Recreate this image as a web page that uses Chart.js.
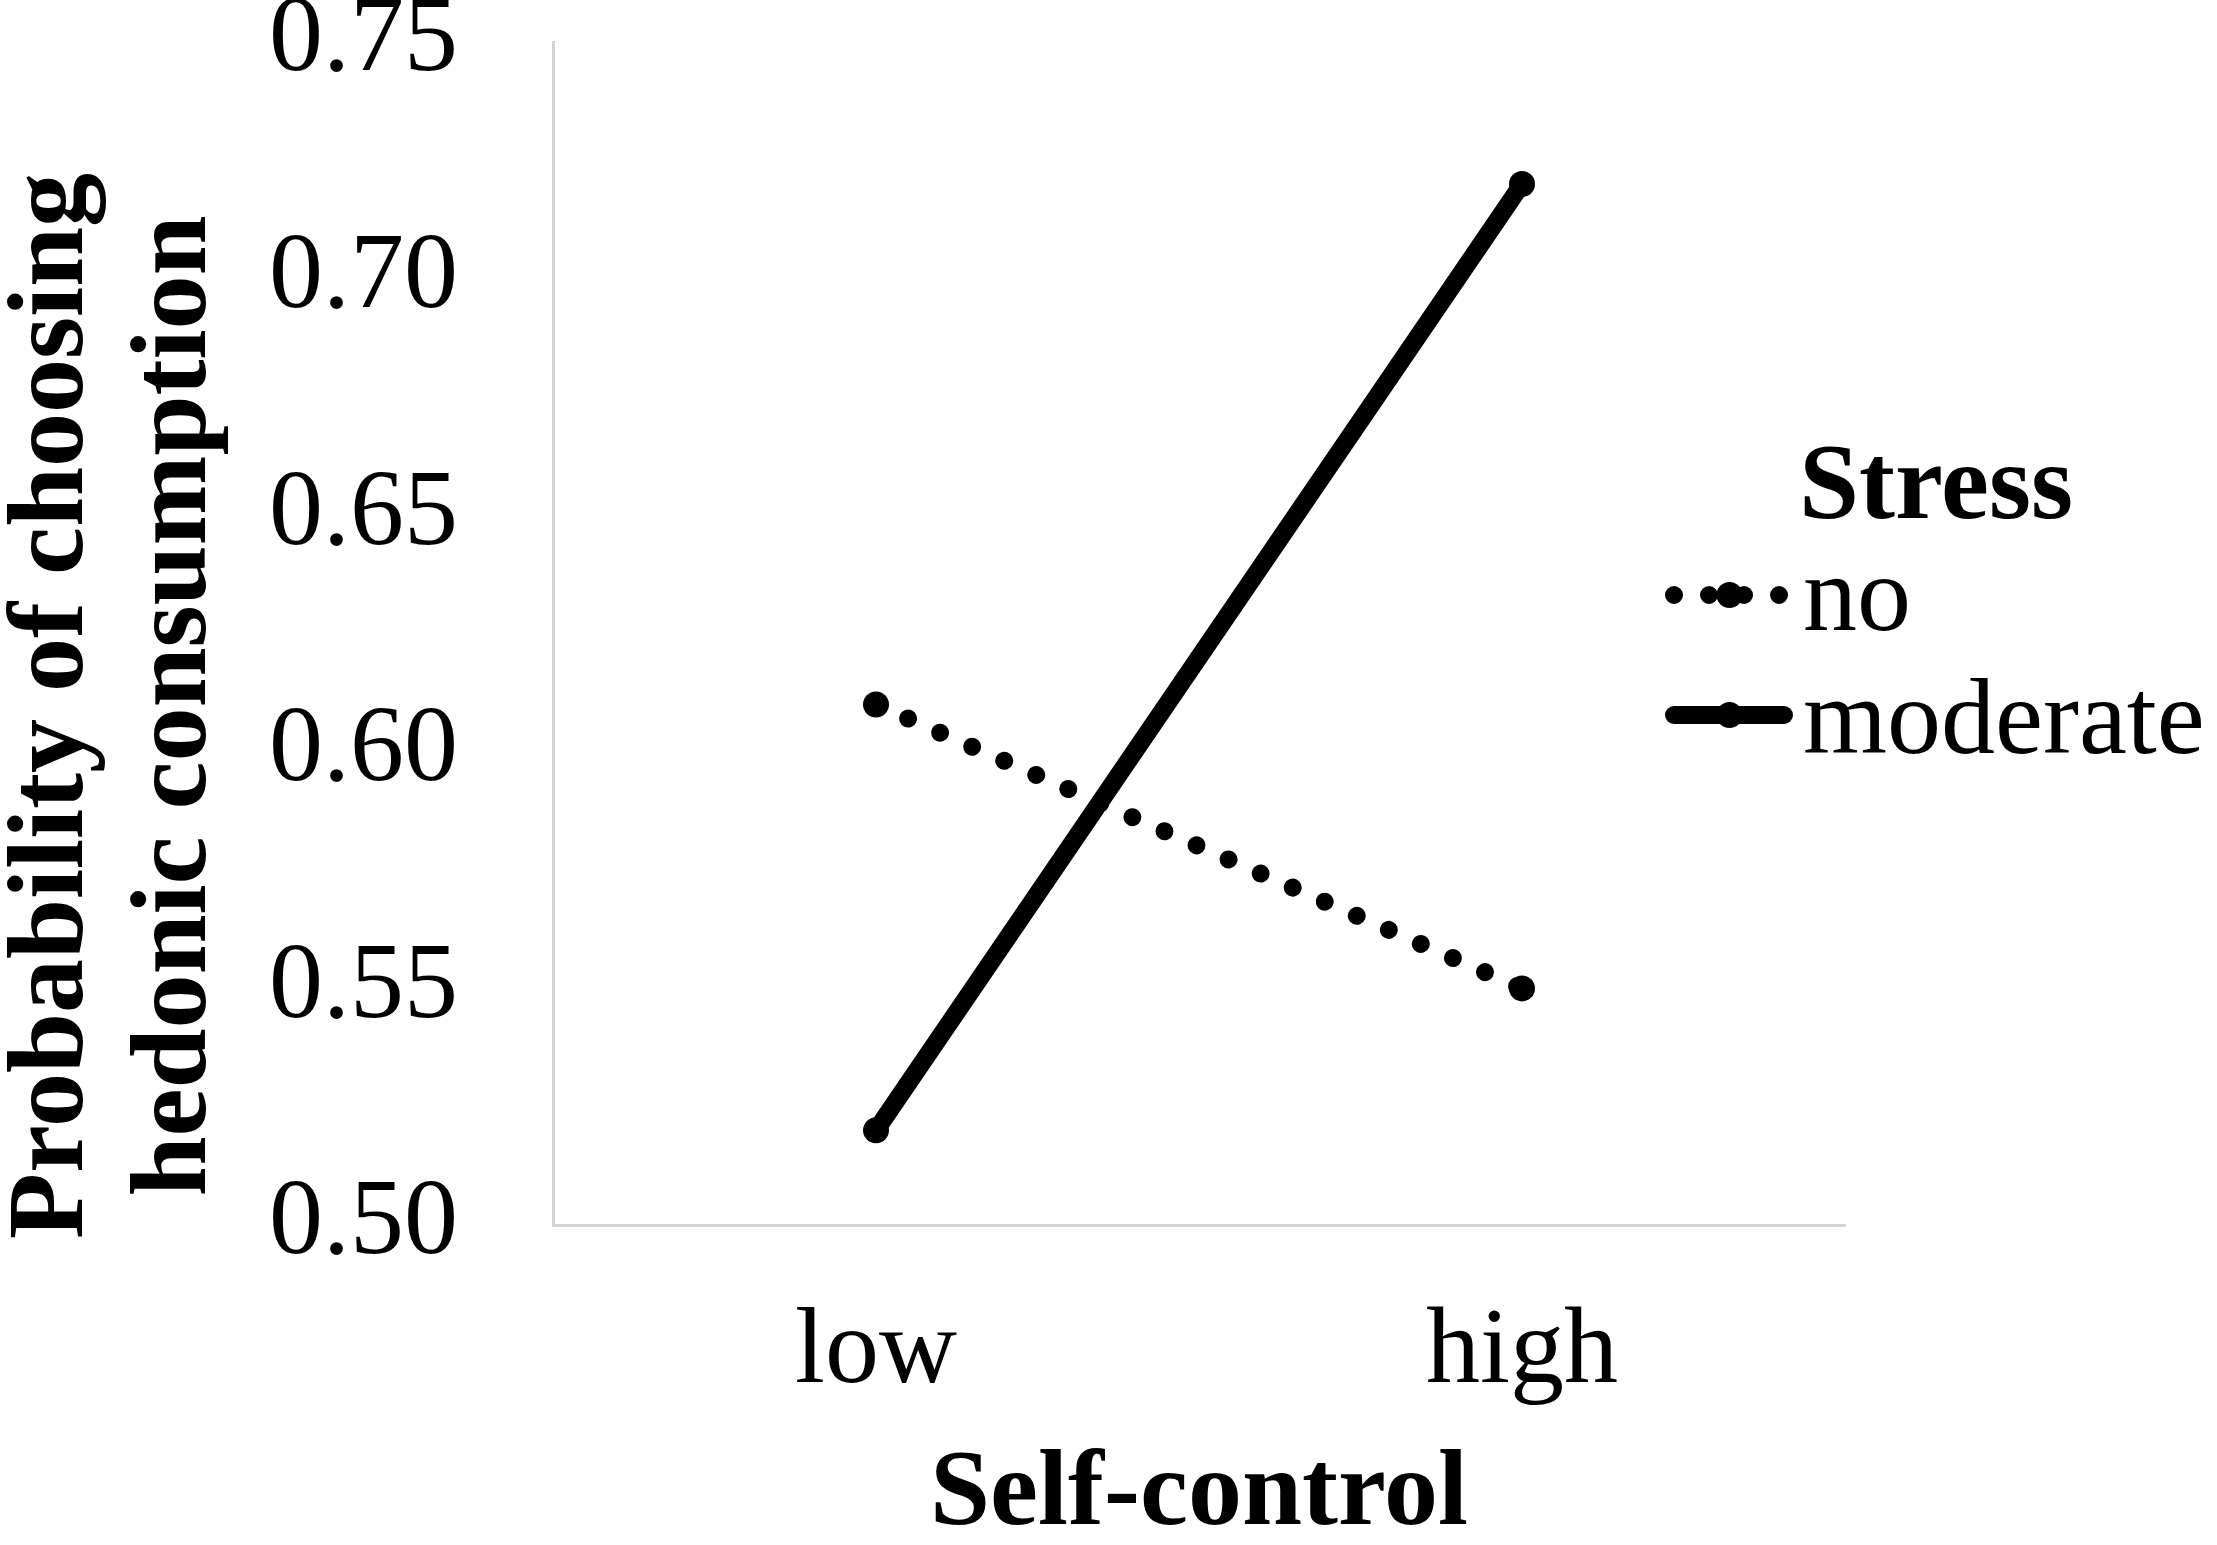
<!DOCTYPE html>
<html>
<head>
<meta charset="utf-8">
<script src="https://cdn.jsdelivr.net/npm/chart.js@4.4.1/dist/chart.umd.min.js"></script>
<style>
  html, body { margin: 0; padding: 0; background: #ffffff; }
  canvas { display: block; }
</style>
</head>
<body>
<canvas id="c" width="2217" height="1545"></canvas>
<script>
const categories = ['low', 'high'];
const seriesNames = ['no', 'moderate'];
const noStress = [0.61, 0.55];
const moderateStress = [0.52, 0.72];
const yTicks = [0.50, 0.55, 0.60, 0.65, 0.70, 0.75];
const legendTitle = 'Stress';
const xTitle = 'Self-control';
const yTitleLines = ['Probability of choosing', 'hedonic consumption'];

const SERIF = '"Liberation Serif", "Times New Roman", serif';

const yTitlePlugin = {
  id: 'yTitle',
  afterDraw(chart) {
    const ctx = chart.ctx;
    ctx.save();
    ctx.fillStyle = '#000';
    ctx.font = 'bold 108px ' + SERIF;
    ctx.textAlign = 'center';
    ctx.textBaseline = 'alphabetic';
    const cy = 706;
    const xs = [82, 205];
    yTitleLines.forEach((t, i) => {
      ctx.save();
      ctx.translate(xs[i], cy);
      ctx.rotate(-Math.PI / 2);
      ctx.fillText(t, 0, 0);
      ctx.restore();
    });
    ctx.restore();
  }
};

const legendPlugin = {
  id: 'customLegend',
  afterDraw(chart) {
    const ctx = chart.ctx;
    const ds = chart.data.datasets;
    ctx.save();
    ctx.fillStyle = '#000';
    ctx.textAlign = 'left';
    ctx.textBaseline = 'alphabetic';
    ctx.font = 'bold 108px ' + SERIF;
    ctx.fillText(legendTitle, 1799, 518);
    const rows = [{y: 595, base: 630}, {y: 715, base: 753}];
    const x0 = 1666, x1 = 1793;
    ds.forEach((d, i) => {
      const r = rows[i];
      ctx.save();
      ctx.strokeStyle = d.borderColor;
      ctx.lineWidth = d.borderWidth;
      ctx.lineCap = 'round';
      ctx.setLineDash(d.borderDash || []);
      ctx.beginPath();
      ctx.moveTo(x0 + 8, r.y);
      ctx.lineTo(x1 - 9, r.y);
      ctx.stroke();
      ctx.setLineDash([]);
      ctx.beginPath();
      ctx.fillStyle = d.pointBackgroundColor;
      ctx.arc((x0 + x1) / 2, r.y, d.pointRadius, 0, Math.PI * 2);
      ctx.fill();
      ctx.restore();
      ctx.font = '108px ' + SERIF;
      ctx.fillStyle = '#000';
      ctx.fillText(d.label, 1803, r.base);
    });
    ctx.restore();
  }
};

new Chart(document.getElementById('c'), {
  type: 'line',
  data: {
    labels: categories,
    datasets: [
      {
        label: seriesNames[0],
        data: noStress,
        borderColor: '#000',
        borderWidth: 18,
        borderDash: [0.01, 35],
        borderCapStyle: 'round',
        pointRadius: 13,
        pointBorderWidth: 0,
        pointBackgroundColor: '#000',
        pointBorderColor: '#000',
        tension: 0,
        fill: false
      },
      {
        label: seriesNames[1],
        data: moderateStress,
        borderColor: '#000',
        borderWidth: 18,
        borderCapStyle: 'round',
        pointRadius: 13,
        pointBorderWidth: 0,
        pointBackgroundColor: '#000',
        pointBorderColor: '#000',
        tension: 0,
        fill: false
      }
    ]
  },
  options: {
    responsive: false,
    devicePixelRatio: 1,
    animation: false,
    layout: { padding: { left: 0, right: 372, top: 42, bottom: 0 } },
    plugins: {
      legend: { display: false },
      tooltip: { enabled: false },
      title: { display: false }
    },
    scales: {
      x: {
        type: 'category',
        offset: true,
        grid: { display: false, drawTicks: false },
        border: { display: true, color: '#d4d4d4', width: 3 },
        ticks: {
          color: '#000',
          padding: 64,
          font: { family: SERIF, size: 108, lineHeight: 1.2 }
        },
        title: {
          display: true,
          text: xTitle,
          color: '#000',
          padding: { top: 0, bottom: 0 },
          font: { family: SERIF, size: 108, weight: 'bold', lineHeight: 0.9 }
        },
        afterFit(scale) {
          scale.height = 320;
          scale.paddingLeft = 0; scale.paddingRight = 0;
          scale.paddingTop = 0; scale.paddingBottom = 0;
        }
      },
      y: {
        min: yTicks[0],
        max: yTicks[yTicks.length - 1],
        grid: { display: false, drawTicks: false },
        border: { display: true, color: '#d4d4d4', width: 3 },
        afterBuildTicks(scale) { scale.ticks = yTicks.map(v => ({ value: v })); },
        ticks: {
          color: '#000',
          padding: 95,
          font: { family: SERIF, size: 108, lineHeight: 0.6 },
          callback: v => Number(v).toFixed(2)
        },
        afterFit(scale) {
          scale.width = 553;
          scale.paddingLeft = 0; scale.paddingRight = 0;
          scale.paddingTop = 0; scale.paddingBottom = 0;
        }
      }
    }
  },
  plugins: [yTitlePlugin, legendPlugin]
});
</script>
</body>
</html>
